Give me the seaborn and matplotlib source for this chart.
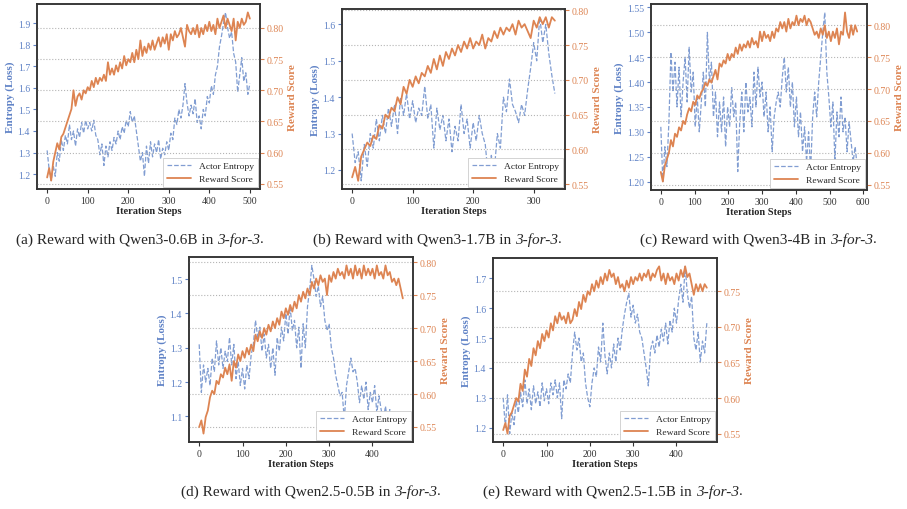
import numpy as np
import matplotlib.pyplot as plt
import seaborn as sns
from matplotlib.ticker import MultipleLocator

# ---- data (values every ~5-6 iteration steps) ----
entropy_a = [1.31, 1.22, 1.17, 1.24, 1.19, 1.30, 1.26, 1.36, 1.31, 1.38, 1.34, 1.43, 1.36, 1.40, 1.33, 1.41, 1.37, 1.44, 1.39, 1.45,
             1.41, 1.44, 1.40, 1.45, 1.38, 1.36, 1.29, 1.34, 1.24, 1.33, 1.28, 1.35, 1.31, 1.37, 1.34, 1.40, 1.36, 1.42, 1.39, 1.45,
             1.42, 1.49, 1.44, 1.47, 1.40, 1.33, 1.26, 1.30, 1.19, 1.33, 1.25, 1.35, 1.28, 1.34, 1.30, 1.36, 1.27, 1.32, 1.29, 1.35,
             1.31, 1.39, 1.36, 1.46, 1.43, 1.50, 1.46, 1.52, 1.62, 1.53, 1.47, 1.52, 1.48, 1.55, 1.44, 1.47, 1.41, 1.50, 1.47, 1.56,
             1.53, 1.61, 1.57, 1.66, 1.70, 1.79, 1.84, 1.90, 1.95, 1.88, 1.83, 1.86, 1.76, 1.72, 1.58, 1.66, 1.74, 1.63, 1.67, 1.57,
             1.62]
reward_a = [0.560, 0.575, 0.555, 0.585, 0.600, 0.615, 0.605, 0.625, 0.630, 0.640, 0.650, 0.660, 0.670, 0.700, 0.675, 0.690,
            0.695, 0.685, 0.700, 0.695, 0.705, 0.700, 0.715, 0.705, 0.720, 0.710, 0.720, 0.715, 0.725, 0.715, 0.745, 0.725,
            0.735, 0.725, 0.740, 0.730, 0.745, 0.735, 0.755, 0.740, 0.750, 0.745, 0.760, 0.745, 0.765, 0.750, 0.780, 0.755,
            0.770, 0.760, 0.775, 0.765, 0.780, 0.765, 0.775, 0.785, 0.770, 0.785, 0.775, 0.790, 0.765, 0.790, 0.780, 0.795,
            0.785, 0.790, 0.800, 0.785, 0.770, 0.805, 0.795, 0.790, 0.800, 0.790, 0.805, 0.785, 0.800, 0.790, 0.805, 0.795,
            0.810, 0.795, 0.805, 0.790, 0.815, 0.800, 0.810, 0.820, 0.800, 0.815, 0.805, 0.795, 0.815, 0.780, 0.810, 0.800,
            0.815, 0.805, 0.810, 0.825, 0.815]

entropy_b = [1.30, 1.22, 1.25, 1.17, 1.27, 1.21, 1.30, 1.26, 1.34, 1.28, 1.35, 1.30, 1.37, 1.32, 1.38, 1.30, 1.40, 1.35, 1.41, 1.34,
             1.39, 1.33, 1.37, 1.35, 1.43, 1.34, 1.38, 1.26, 1.37, 1.31, 1.35, 1.28, 1.34, 1.25, 1.32, 1.28, 1.38, 1.30, 1.34, 1.26,
             1.33, 1.28, 1.35, 1.30, 1.27, 1.18, 1.24, 1.20, 1.30, 1.26, 1.40, 1.36, 1.45, 1.38, 1.36, 1.33, 1.38, 1.35, 1.42, 1.48,
             1.55, 1.50, 1.62, 1.55, 1.60, 1.52, 1.46, 1.41]
reward_b = [0.560, 0.575, 0.555, 0.590, 0.600, 0.610, 0.605, 0.620, 0.615, 0.635, 0.630, 0.650, 0.645, 0.660, 0.655, 0.675,
            0.665, 0.690, 0.680, 0.700, 0.690, 0.705, 0.695, 0.710, 0.705, 0.720, 0.710, 0.730, 0.715, 0.735, 0.720, 0.740,
            0.730, 0.745, 0.735, 0.750, 0.740, 0.755, 0.745, 0.760, 0.745, 0.755, 0.750, 0.765, 0.745, 0.760, 0.755, 0.770,
            0.760, 0.775, 0.765, 0.775, 0.770, 0.780, 0.765, 0.785, 0.775, 0.780, 0.770, 0.760, 0.785, 0.775, 0.790, 0.780,
            0.790, 0.775, 0.790, 0.785]

entropy_c = [1.31, 1.20, 1.27, 1.23, 1.32, 1.46, 1.38, 1.44, 1.35, 1.43, 1.33, 1.40, 1.45, 1.36, 1.47, 1.38, 1.42, 1.31, 1.37, 1.30,
             1.36, 1.42, 1.35, 1.50, 1.40, 1.44, 1.33, 1.38, 1.29, 1.36, 1.30, 1.37, 1.27, 1.35, 1.31, 1.39, 1.33, 1.36, 1.22, 1.32,
             1.38, 1.30, 1.40, 1.34, 1.37, 1.31, 1.42, 1.35, 1.43, 1.37, 1.40, 1.33, 1.38, 1.30, 1.35, 1.26, 1.33, 1.36, 1.38, 1.35,
             1.41, 1.45, 1.38, 1.43, 1.35, 1.40, 1.31, 1.37, 1.29, 1.34, 1.26, 1.31, 1.24, 1.30, 1.22, 1.33, 1.38, 1.33, 1.40, 1.45,
             1.50, 1.54, 1.42, 1.37, 1.31, 1.36, 1.24, 1.34, 1.29, 1.37, 1.30, 1.33, 1.26, 1.32, 1.28, 1.24, 1.27, 1.23]
reward_c = [0.570, 0.555, 0.580, 0.590, 0.600, 0.620, 0.610, 0.630, 0.625, 0.640, 0.635, 0.650, 0.645, 0.660, 0.670, 0.665,
            0.680, 0.675, 0.690, 0.685, 0.695, 0.700, 0.710, 0.705, 0.715, 0.710, 0.720, 0.730, 0.715, 0.740, 0.735, 0.745,
            0.740, 0.755, 0.745, 0.755, 0.750, 0.765, 0.755, 0.770, 0.760, 0.770, 0.765, 0.775, 0.765, 0.780, 0.770, 0.775,
            0.765, 0.790, 0.775, 0.790, 0.780, 0.785, 0.775, 0.790, 0.780, 0.795, 0.790, 0.805, 0.795, 0.805, 0.790, 0.810,
            0.795, 0.805, 0.800, 0.815, 0.800, 0.810, 0.805, 0.815, 0.800, 0.810, 0.805, 0.795, 0.785, 0.790, 0.780, 0.795,
            0.785, 0.800, 0.780, 0.790, 0.775, 0.790, 0.780, 0.795, 0.770, 0.790, 0.785, 0.820, 0.790, 0.780, 0.800, 0.785,
            0.800, 0.790]

entropy_d = [1.31, 1.17, 1.25, 1.20, 1.24, 1.19, 1.27, 1.23, 1.32, 1.25, 1.30, 1.24, 1.29, 1.26, 1.33, 1.25, 1.31, 1.21, 1.26, 1.19,
             1.24, 1.18, 1.25, 1.21, 1.28, 1.31, 1.38, 1.33, 1.36, 1.29, 1.34, 1.27, 1.31, 1.24, 1.30, 1.22, 1.33, 1.29, 1.36, 1.32,
             1.40, 1.34, 1.42, 1.35, 1.38, 1.30, 1.36, 1.24, 1.37, 1.30, 1.42, 1.47, 1.54, 1.50, 1.45, 1.48, 1.42, 1.45, 1.38, 1.35,
             1.37, 1.30, 1.27, 1.22, 1.19, 1.16, 1.17, 1.09, 1.19, 1.23, 1.27, 1.23, 1.24, 1.20, 1.14, 1.19, 1.15, 1.20, 1.12, 1.17,
             1.14, 1.19, 1.11, 1.16, 1.12, 1.09, 1.13, 1.08, 1.12, 1.07, 1.11, 1.06, 1.10, 1.05, 1.08]
reward_d = [0.550, 0.560, 0.540, 0.565, 0.575, 0.595, 0.605, 0.600, 0.620, 0.615, 0.630, 0.625, 0.640, 0.630, 0.645, 0.620,
            0.650, 0.640, 0.660, 0.650, 0.665, 0.655, 0.670, 0.660, 0.675, 0.665, 0.690, 0.680, 0.695, 0.685, 0.700, 0.690,
            0.705, 0.695, 0.710, 0.700, 0.715, 0.705, 0.725, 0.715, 0.730, 0.720, 0.735, 0.725, 0.740, 0.730, 0.750, 0.740,
            0.755, 0.745, 0.760, 0.750, 0.770, 0.760, 0.775, 0.765, 0.780, 0.770, 0.775, 0.750, 0.780, 0.770, 0.785, 0.775,
            0.790, 0.780, 0.785, 0.775, 0.795, 0.780, 0.790, 0.775, 0.795, 0.780, 0.790, 0.775, 0.795, 0.780, 0.790, 0.780,
            0.790, 0.775, 0.795, 0.780, 0.785, 0.775, 0.795, 0.780, 0.785, 0.770, 0.775, 0.765, 0.775, 0.760, 0.745]

entropy_e = [1.30, 1.20, 1.31, 1.18, 1.25, 1.21, 1.29, 1.25, 1.32, 1.27, 1.36, 1.28, 1.33, 1.26, 1.34, 1.28, 1.32, 1.27, 1.35, 1.29,
             1.33, 1.28, 1.35, 1.31, 1.36, 1.30, 1.35, 1.23, 1.36, 1.33, 1.38, 1.35, 1.45, 1.52, 1.46, 1.50, 1.42, 1.45, 1.35, 1.30,
             1.27, 1.35, 1.40, 1.37, 1.47, 1.42, 1.55, 1.44, 1.38, 1.45, 1.40, 1.48, 1.42, 1.50, 1.46, 1.53, 1.58, 1.62, 1.65, 1.57,
             1.61, 1.55, 1.58, 1.52, 1.50, 1.45, 1.40, 1.34, 1.46, 1.49, 1.45, 1.51, 1.47, 1.53, 1.49, 1.55, 1.48, 1.56, 1.52, 1.60,
             1.55, 1.63, 1.68, 1.62, 1.74, 1.65, 1.60, 1.64, 1.50, 1.46, 1.52, 1.42, 1.49, 1.45, 1.55]
reward_e = [0.555, 0.565, 0.550, 0.575, 0.580, 0.590, 0.600, 0.595, 0.620, 0.610, 0.640, 0.630, 0.655, 0.645, 0.670, 0.660,
            0.680, 0.670, 0.690, 0.680, 0.695, 0.685, 0.705, 0.695, 0.715, 0.705, 0.720, 0.710, 0.715, 0.705, 0.720, 0.705,
            0.710, 0.725, 0.715, 0.735, 0.725, 0.745, 0.735, 0.750, 0.745, 0.760, 0.750, 0.765, 0.755, 0.770, 0.760, 0.775,
            0.765, 0.780, 0.770, 0.775, 0.760, 0.770, 0.755, 0.760, 0.750, 0.765, 0.755, 0.770, 0.760, 0.770, 0.765, 0.775,
            0.765, 0.775, 0.770, 0.780, 0.765, 0.775, 0.770, 0.780, 0.785, 0.765, 0.775, 0.760, 0.775, 0.765, 0.770, 0.760,
            0.775, 0.765, 0.780, 0.770, 0.785, 0.770, 0.775, 0.760, 0.745, 0.760, 0.750, 0.760, 0.750, 0.760, 0.755]

last_steps = [500, 335, 582, 470, 470]
entropy_tick_step = [0.1, 0.1, 0.05, 0.1, 0.1]
captions = [("(a) Reward with Qwen3-0.6B in", "3-for-3"),
            ("(b) Reward with Qwen3-1.7B in", "3-for-3"),
            ("(c) Reward with Qwen3-4B in", "3-for-3"),
            ("(d) Reward with Qwen2.5-0.5B in", "3-for-3"),
            ("(e) Reward with Qwen2.5-1.5B in", "3-for-3")]

sns.set_theme(style="white")
plt.rcParams['font.family'] = ['Liberation Serif', 'DejaVu Serif']

BLUE = "#7393cd"
BLUE_TXT = "#5f82c6"
ORANGE = "#dd8452"
W, H = 907, 510

fig = plt.figure(figsize=(W / 100, H / 100), dpi=100)

# axes boxes in pixels: left, top, right, bottom
boxes = [(37, 5, 260, 190), (342, 10, 565, 190), (651, 5, 867, 191),
         (189, 258, 413, 443), (493, 259, 717, 443)]
cap_pos = [(140, 240), (437, 240), (758, 240), (311, 492), (613, 492)]

series = [(entropy_a, reward_a), (entropy_b, reward_b), (entropy_c, reward_c),
          (entropy_d, reward_d), (entropy_e, reward_e)]

for (l, t, r, b), (ent, rew), last, ystep in zip(boxes, series, last_steps, entropy_tick_step):
    ax1 = fig.add_axes([l / W, 1 - b / H, (r - l) / W, (b - t) / H])
    ax2 = ax1.twinx()
    x_ent = np.linspace(0, last, len(ent))
    x_rew = np.linspace(0, last, len(rew))
    sns.lineplot(x=x_ent, y=ent, ax=ax1, color=BLUE, linestyle='--', linewidth=0.9, alpha=0.9)
    sns.lineplot(x=x_rew, y=rew, ax=ax2, color=ORANGE, linewidth=1.3)

    ax1.xaxis.set_major_locator(MultipleLocator(100))
    ax1.yaxis.set_major_locator(MultipleLocator(ystep))
    ax2.yaxis.set_major_locator(MultipleLocator(0.05))

    ax2.grid(axis='y', linestyle=':', color='#b5b5b5', linewidth=0.8)
    ax1.grid(False)
    ax1.set_xlabel("Iteration Steps", fontsize=7.5, fontweight='bold', labelpad=1)
    ax1.set_ylabel("Entropy (Loss)", fontsize=8, fontweight='bold', color=BLUE_TXT, labelpad=2)
    ax2.set_ylabel("Reward Score", fontsize=8, fontweight='bold', color=ORANGE, labelpad=3)
    ax1.tick_params(axis='y', colors=BLUE_TXT, labelsize=7, length=3, width=0.8, pad=2, left=True)
    ax1.tick_params(axis='x', colors='#333333', labelsize=7, length=3, width=0.8, pad=2, bottom=True)
    ax2.tick_params(axis='y', colors=ORANGE, labelsize=7, length=3, width=0.8, pad=2, right=True)
    for ax in (ax1, ax2):
        for sp in ax.spines.values():
            sp.set_color('#333333')
            sp.set_linewidth(1.1)

    h1 = ax1.get_lines()[0]
    h2 = ax2.get_lines()[0]
    leg = ax2.legend([h1, h2], ["Actor Entropy", "Reward Score"], loc='lower right', fontsize=6.8,
                     frameon=True, fancybox=False, framealpha=1, edgecolor='#cccccc',
                     handlelength=2.6, borderaxespad=0.25, borderpad=0.4, labelspacing=0.4)
    leg.get_frame().set_linewidth(0.6)

# captions: upright lead, italic "3-for-3", then a period
renderer = fig.canvas.get_renderer()


def text_width(s, style='normal'):
    tt = fig.text(0, 0, s, fontsize=11, style=style)
    w = tt.get_window_extent(renderer).width
    tt.remove()
    return w


space_w = text_width("a a") - text_width("aa")
for (lead, ital), (xc, yc) in zip(captions, cap_pos):
    w1 = text_width(lead)
    w2 = text_width(ital, 'italic')
    w3 = text_width(".")
    total = w1 + space_w + w2 + w3
    x0 = xc - total / 2
    y = 1 - yc / H
    fig.text(x0 / W, y, lead, fontsize=11, va='center')
    fig.text((x0 + w1 + space_w) / W, y, ital, fontsize=11, style='italic', va='center')
    fig.text((x0 + w1 + space_w + w2) / W, y, ".", fontsize=11, va='center')

fig.savefig("out.png", dpi=100)
